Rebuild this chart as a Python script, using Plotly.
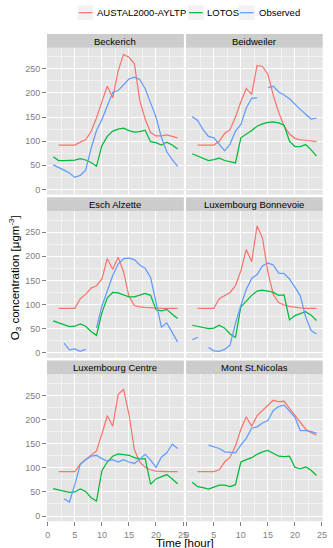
import plotly.graph_objects as go

# ---------------- data ----------------
hours = list(range(1, 25))

series_names = ["AUSTAL2000-AYLTP", "LOTOS", "Observed"]
series_colors = ["#F8766D", "#00BA38", "#619CFF"]

stations = ["Beckerich", "Beidweiler", "Esch Alzette",
            "Luxembourg Bonnevoie", "Luxembourg Centre", "Mont St.Nicolas"]

beckerich_austal = [None, 92, 92, 92, 92, 98, 103, 120, 148, 182, 214, 190,
                    246, 280, 274, 261, 184, 146, 118, 111, 111, 113, 110, 107]
beckerich_lotos = [68, 60, 60, 60, 61, 64, 61, 56, 48, 91, 110, 121,
                   125, 127, 122, 119, 120, 123, 99, 97, 92, 98, 92, 84]
beckerich_obs = [51, 46, 40, 34, 25, 29, 40, 85, 122, 145, 172, 201,
                 205, 218, 229, 233, 228, 209, 178, 150, 108, 78, 62, 48]

beidweiler_austal = [None, 92, 92, 92, 92, 100, 116, 124, 150, 182, 209, 197,
                     257, 255, 239, 195, 160, 131, 115, 106, 103, 102, 101, 99]
beidweiler_lotos = [74, 69, 64, 60, 62, 65, 60, 58, 55, 107, 114, 122,
                    131, 136, 139, 140, 138, 133, 100, 89, 89, 93, 82, 69]
beidweiler_obs = [151, 143, 124, 110, 107, 93, 80, 94, 121, 135, 169, 189,
                  190, None, 211, 214, 202, 196, 188, 176, 166, 156, 146, 148]

esch_austal = [None, 92, 92, 92, 92, 112, 121, 134, 139, 153, 195, 173,
               198, 168, 117, 98, 95, 94, 93, 92, 92, 92, 92, 92]
esch_lotos = [66, 62, 58, 54, 55, 60, 55, 44, 36, 83, 114, 125,
              124, 120, 116, 116, 119, 123, 119, 89, 87, 90, 80, 71]
esch_obs = [None, None, 20, 6, 8, 3, 7, None, 51, 97, 128, 160,
            184, 195, 196, 193, 182, 175, 156, 105, 53, 62, 42, 22]

bonnevoie_austal = [None, 92, 92, 92, 92, 112, 119, 125, 139, 170, 214, 189,
                    263, 238, 167, 121, 104, 99, 96, 94, 93, 92, 92, 92]
bonnevoie_lotos = [57, 55, 53, 50, 51, 57, 51, 39, 32, 95, 107, 119,
                   128, 130, 128, 125, 119, 120, 68, 77, 81, 85, 78, 67]
bonnevoie_obs = [27, 32, None, 11, 4, 3, 7, 16, 61, 98, 131, 154,
                 162, 180, 186, 182, 165, 164, 153, 136, 118, 74, 46, 39]

centre_austal = [None, 92, 92, 92, 92, 108, 117, 126, 135, 170, 208, 186,
                 252, 263, 211, 138, 112, 101, 96, 93, 92, 92, 92, 92]
centre_lotos = [57, 54, 52, 49, 50, 56, 51, 38, 31, 94, 112, 124,
                129, 128, 126, 121, 118, 119, 66, 77, 82, 86, 77, 67]
centre_obs = [None, None, 36, 29, 65, 107, 117, 124, 126, 119, 114, 117,
              112, 117, 112, 109, 118, 128, 116, 101, 122, 131, 149, 140]

mont_austal = [None, 92, 92, 92, 92, 96, 112, 122, 145, 180, 206, 186,
               208, 219, 229, 240, 237, 238, 223, 208, 194, 180, 173, 168]
mont_lotos = [70, 61, 59, 56, 60, 64, 64, 61, 65, 112, 117, 121,
              128, 133, 136, 130, 124, 123, 124, 101, 98, 102, 95, 84]
mont_obs = [None, None, None, 147, 144, 140, 133, 132, 131, 147, 161, 182,
            185, 193, 198, 219, 227, 230, 217, 205, 177, 177, 175, 172]

x_ticks = [0, 5, 10, 15, 20, 25]
y_ticks = [0, 50, 100, 150, 200, 250]

table = {
    "Beckerich": [beckerich_austal, beckerich_lotos, beckerich_obs],
    "Beidweiler": [beidweiler_austal, beidweiler_lotos, beidweiler_obs],
    "Esch Alzette": [esch_austal, esch_lotos, esch_obs],
    "Luxembourg Bonnevoie": [bonnevoie_austal, bonnevoie_lotos, bonnevoie_obs],
    "Luxembourg Centre": [centre_austal, centre_lotos, centre_obs],
    "Mont St.Nicolas": [mont_austal, mont_lotos, mont_obs],
}

# ---------------- layout geometry (pixels) ----------------
W, H = 333, 548
FONT = "Liberation Sans, Arial, Helvetica, sans-serif"
col_x = [(45.8, 185.2), (187.4, 326.6)]
strip_tops = [34.0, 197.3, 360.6]
STRIP_H = 13.7
PANEL_H = 147.0
X_RANGE = [-0.15, 25.15]
Y_RANGE = [-10.9, 293.9]
TICK_GREY = "#7F7F7F"

fig = go.Figure()
layout = dict(
    width=W, height=H,
    margin=dict(l=0, r=0, t=0, b=0),
    paper_bgcolor="white",
    plot_bgcolor="#E5E5E5",
    showlegend=False,
    font=dict(family=FONT, color="black"),
)
shapes = []
annotations = []

def px(x):
    return x / W

def py(y):
    return 1 - y / H

for i, st in enumerate(stations):
    r, c = divmod(i, 2)
    x0, x1 = col_x[c]
    ptop = strip_tops[r] + STRIP_H
    pbot = ptop + PANEL_H
    ax = "" if i == 0 else str(i + 1)
    bottom = (r == 2)
    left = (c == 0)

    layout["xaxis" + ax] = dict(
        domain=[px(x0), px(x1)], range=X_RANGE, anchor="y" + ax,
        tickmode="array", tickvals=x_ticks,
        showgrid=True, gridcolor="white", gridwidth=1.1,
        zeroline=False, showline=False,
        ticks="outside" if bottom else "", ticklen=4, tickwidth=1,
        tickcolor=TICK_GREY, showticklabels=bottom, ticklabelstandoff=1,
        tickfont=dict(size=9, color=TICK_GREY, family=FONT),
        minor=dict(tickmode="array", tickvals=[2.5, 7.5, 12.5, 17.5, 22.5],
                   showgrid=True, gridcolor="#F2F2F2", gridwidth=0.6, ticks=""),
    )
    layout["yaxis" + ax] = dict(
        domain=[py(pbot), py(ptop)], range=Y_RANGE, anchor="x" + ax,
        tickmode="array", tickvals=y_ticks,
        showgrid=True, gridcolor="white", gridwidth=1.1,
        zeroline=False, showline=False,
        ticks="outside" if left else "", ticklen=4, tickwidth=1,
        tickcolor=TICK_GREY, showticklabels=left,
        tickfont=dict(size=9, color=TICK_GREY, family=FONT),
        minor=dict(tickmode="array", tickvals=[25, 75, 125, 175, 225, 275],
                   showgrid=True, gridcolor="#F2F2F2", gridwidth=0.6, ticks=""),
    )

    # strip
    shapes.append(dict(type="rect", xref="paper", yref="paper",
                       x0=px(x0), x1=px(x1), y0=py(ptop), y1=py(strip_tops[r]),
                       fillcolor="#CCCCCC", line=dict(width=0), layer="below"))
    annotations.append(dict(text=st, xref="paper", yref="paper",
                            x=px((x0 + x1) / 2), y=py(strip_tops[r] + STRIP_H / 2 + 0.4),
                            xanchor="center", yanchor="middle", showarrow=False,
                            font=dict(size=9.5, color="black", family=FONT)))

    for k, name in enumerate(series_names):
        fig.add_trace(go.Scatter(
            x=hours, y=table[st][k], mode="lines", name=name,
            line=dict(color=series_colors[k], width=1.25),
            connectgaps=False, xaxis="x" + ax, yaxis="y" + ax,
            showlegend=False, hoverinfo="skip",
        ))

# legend (ggplot-style keys)
legend_box_x = [76.5, 189.0, 240.7]
legend_text_x = [95.0, 207.0, 259.5]
LEG_Y = 12.7
for k, name in enumerate(series_names):
    bx = legend_box_x[k]
    shapes.append(dict(type="rect", xref="paper", yref="paper",
                       x0=px(bx), x1=px(bx + 17), y0=py(LEG_Y + 8), y1=py(LEG_Y - 8),
                       fillcolor="#F2F2F2", line=dict(color="white", width=1)))
    shapes.append(dict(type="line", xref="paper", yref="paper",
                       x0=px(bx + 1.5), x1=px(bx + 15.5), y0=py(LEG_Y), y1=py(LEG_Y),
                       line=dict(color=series_colors[k], width=1.25)))
    annotations.append(dict(text=name, xref="paper", yref="paper",
                            x=px(legend_text_x[k]), y=py(LEG_Y),
                            xanchor="left", yanchor="middle", showarrow=False,
                            font=dict(size=9.5, color="black", family=FONT)))

# axis titles
annotations.append(dict(text="O<sub>3</sub> concentration [μgm<sup>-3</sup>]",
                        xref="paper", yref="paper", x=px(13.5), y=py(278),
                        xanchor="center", yanchor="middle", textangle=-90,
                        showarrow=False, font=dict(size=11.5, color="black", family=FONT)))
annotations.append(dict(text="Time [hour]", xref="paper", yref="paper",
                        x=px(186.5), y=py(549.5), xanchor="center", yanchor="bottom",
                        height=12, valign="middle", borderpad=0,
                        showarrow=False, font=dict(size=11.5, color="black", family=FONT)))

layout["shapes"] = shapes
layout["annotations"] = annotations
fig.update_layout(**layout)
fig.write_html("out.html")
